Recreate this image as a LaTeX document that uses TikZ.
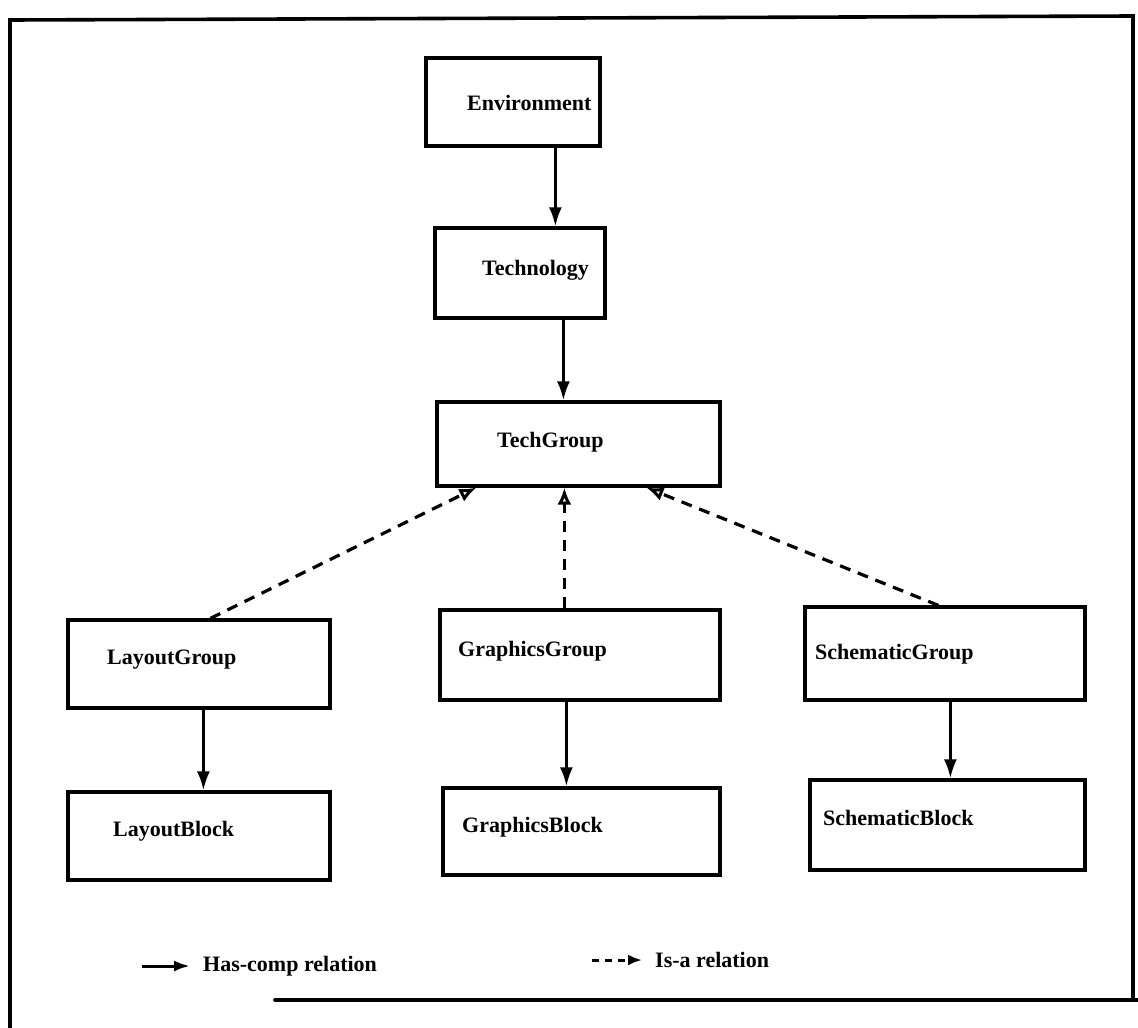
\documentclass[tikz,border=0pt]{standalone}
\usepackage{fontspec}
\setmainfont{Liberation Serif}
\usetikzlibrary{arrows.meta,calc}

\tikzset{
  box/.style={draw, line width=3.2pt, inner sep=0pt},
  lbl/.style={anchor=west, inner sep=0pt, font=\bfseries\fontsize{22}{26}\selectfont},
  hascomp/.style={line width=3pt, -{Latex[length=19pt,width=13pt]}},
  isa/.style={line width=3.2pt, dash pattern=on 11pt off 8pt,
              -{Latex[open,length=17pt,width=14pt,line width=3pt]}},
  frame/.style={line width=3.6pt, line cap=round, line join=miter}
}

\begin{document}
\begin{tikzpicture}[x=1pt,y=-1pt]
\useasboundingbox (0,0) rectangle (1138,1028);

% outer frame
\draw[frame] (10,1028) -- (10,20) -- (1133,16) -- (1133,1000);
\draw[frame] (275,1000) -- (1138,1000);

% class boxes
\node[box, minimum width=174pt, minimum height=88pt] (env)  at (513,102) {};
\node[box, minimum width=170pt, minimum height=90pt] (tech) at (520,273) {};
\node[box, minimum width=283pt, minimum height=84pt] (tg)   at (578.5,444) {};
\node[box, minimum width=262pt, minimum height=88pt] (lg)   at (199,664) {};
\node[box, minimum width=280pt, minimum height=90pt] (gg)   at (580,655) {};
\node[box, minimum width=280pt, minimum height=93pt] (sg)   at (945,653.5) {};
\node[box, minimum width=262pt, minimum height=88pt] (lb)   at (199,836) {};
\node[box, minimum width=277pt, minimum height=87pt] (gb)   at (581.5,831.5) {};
\node[box, minimum width=275pt, minimum height=90pt] (sb)   at (947.5,825) {};

% class names
\node[lbl] (envT)  at (467,103) {Environment};
\node[lbl] (techT) at (482,270) {Technology};
\node[lbl] (tgT)   at (497,442) {TechGroup};
\node[lbl] (lgT)   at (107,660) {LayoutGroup};
\node[lbl] (ggT)   at (458,651) {GraphicsGroup};
\node[lbl] (sgT)   at (815,654) {SchematicGroup};
\node[lbl] (lbT)   at (113,831) {LayoutBlock};
\node[lbl] (gbT)   at (462,827) {GraphicsBlock};
\node[lbl] (sbT)   at (823,818) {SchematicBlock};

% has-comp relations
\draw[hascomp] ($(env.south west)+(131,0)$) -- ($(tech.north west)+(122,0)$);
\draw[hascomp] ($(tech.south west)+(130,0)$) -- ($(tg.north west)+(128,0)$);
\draw[hascomp] ($(lg.south west)+(137,0)$) -- ($(lb.north west)+(137,0)$);
\draw[hascomp] ($(gg.south west)+(128,0)$) -- ($(gb.north west)+(125,0)$);
\draw[hascomp] ($(sg.south west)+(147,0)$) -- ($(sb.north west)+(142,0)$);

% is-a relations
\draw[isa] ($(lg.north west)+(144,0)$) -- ($(tg.south west)+(41,0)$);
\draw[isa] ($(gg.north west)+(126,0)$) -- ($(tg.south west)+(129,0)$);
\draw[isa] ($(sg.north west)+(135,0)$) -- ($(tg.south west)+(211,0)$);

% legend
\coordinate (k1a) at (142,966);
\coordinate (k1b) at (190,966);
\draw[line width=3pt, -{Latex[length=16pt,width=11pt]}] (k1a) -- (k1b);
\node[lbl] (k1T) at (203,966) {Has-comp relation};
\coordinate (k2a) at (592,960);
\coordinate (k2b) at (642,960);
\draw[line width=3pt, dash pattern=on 7pt off 6pt, -{Latex[length=14pt,width=11pt]}] (k2a) -- (k2b);
\node[lbl] (k2T) at (655,960) {Is-a relation};
\end{tikzpicture}
\end{document}
